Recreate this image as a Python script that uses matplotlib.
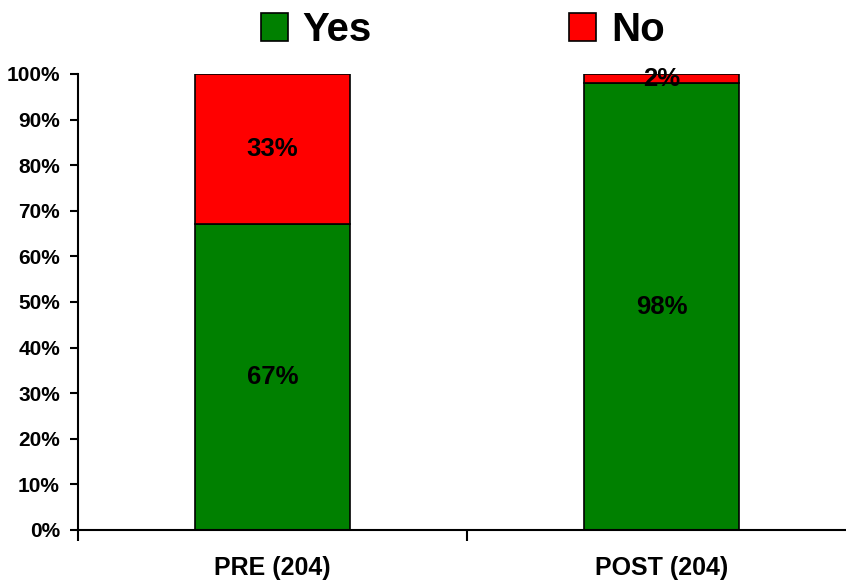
import matplotlib.pyplot as plt
from matplotlib.ticker import MultipleLocator, FixedLocator, PercentFormatter

plt.rcParams['font.family'] = ['Liberation Sans', 'DejaVu Sans']
plt.rcParams['font.weight'] = 'bold'

# --- data ---
categories = ['PRE (204)', 'POST (204)']
yes_pct = [67, 98]
no_pct = [33, 2]
series_names = ['Yes', 'No']
colors = ['#008000', '#FF0000']

fig = plt.figure(figsize=(8.46, 5.81), dpi=100)
ax = fig.add_axes([0.0922, 0.0878, 0.9196, 0.7849])

x = list(range(len(categories)))
b1 = ax.bar(x, yes_pct, width=0.4, color=colors[0], edgecolor='black',
            linewidth=1.2, label=series_names[0])
b2 = ax.bar(x, no_pct, width=0.4, bottom=yes_pct, color=colors[1],
            edgecolor='black', linewidth=1.2, label=series_names[1])

# segment labels in the middle of each piece
for i in x:
    ax.text(i, yes_pct[i] / 2, f'{yes_pct[i]}%', ha='center', va='center',
            fontsize=18.5, fontweight='bold')
    ax.text(i, yes_pct[i] + no_pct[i] / 2, f'{no_pct[i]}%', ha='center',
            va='center', fontsize=18.5, fontweight='bold')

ax.set_xlim(-0.5, 1.5)
ax.set_ylim(0, 100)
ax.yaxis.set_major_locator(MultipleLocator(10))
ax.yaxis.set_major_formatter(PercentFormatter(decimals=0))
ax.tick_params(axis='y', direction='out', length=6, width=1.5, pad=7,
               labelsize=15)

ax.set_xticks(x)
ax.set_xticklabels(categories, fontsize=18, fontweight='bold')
ax.xaxis.set_minor_locator(FixedLocator([-0.5, 0.5, 1.5]))
ax.tick_params(axis='x', which='major', length=0, pad=19)
ax.tick_params(axis='x', which='minor', direction='out', length=8, width=1.5)

for lbl in ax.get_yticklabels():
    lbl.set_fontweight('bold')

ax.spines['top'].set_visible(False)
ax.spines['right'].set_visible(False)
ax.spines['left'].set_linewidth(1.5)
ax.spines['bottom'].set_linewidth(1.5)

fig.legend(handles=[b1, b2], labels=series_names, loc='center',
           bbox_to_anchor=(463 / 846, 0.948), ncol=2, frameon=False,
           prop={'size': 29, 'weight': 'bold'}, handlelength=0.67,
           handleheight=0.67, handletextpad=0.36, columnspacing=4.9)

fig.savefig('out.png', dpi=100)
